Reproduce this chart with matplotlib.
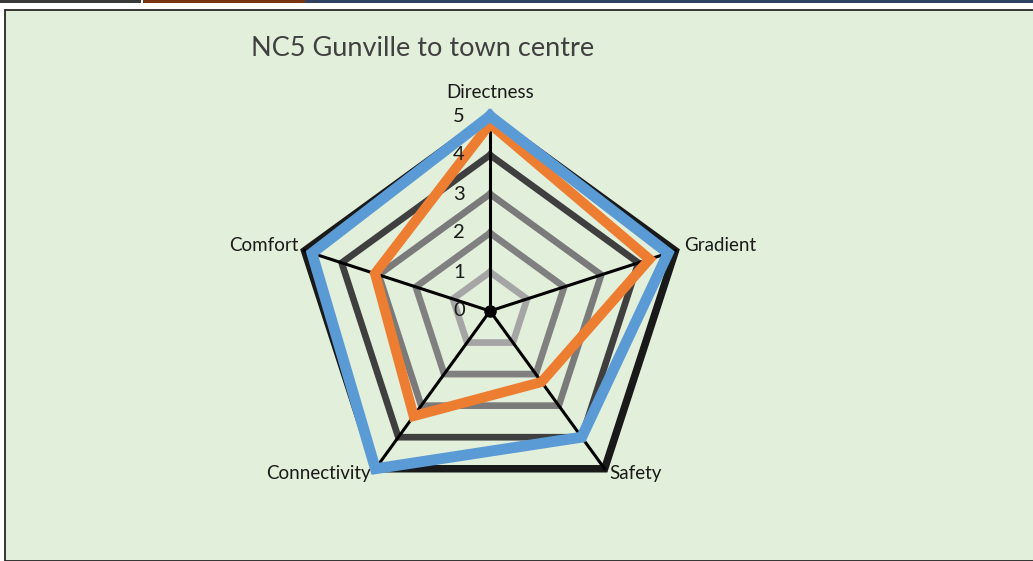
"""
雷达图：NC5 Gunville to town centre
"""
import numpy as np
import matplotlib.pyplot as plt
from matplotlib.patches import Rectangle

plt.rcParams['font.family'] = ['Lato', 'DejaVu Sans']

# 数据
categories = ['Directness', 'Gradient', 'Safety', 'Connectivity', 'Comfort']
existing = [4.8, 4.3, 2.25, 3.33, 3.1]      # 橙色
potential = [5, 4.8, 4, 5, 4.8]             # 蓝色
ring_levels = [1, 2, 3, 4, 5]
ring_colors = ['#a5a5a5', '#808080', '#7a7a7a', '#3f3f3f', '#191919']
ring_widths = [4.8, 4.8, 4.8, 4.8, 5.4]
tick_labels = ['0', '1', '2', '3', '4', '5']

W, H = 1033, 561
fig = plt.figure(figsize=(W / 100, H / 100), dpi=100)
fig.patch.set_facecolor('white')

# 背景框
fig.patches.append(Rectangle((5 / W, 0), 1, 1 - 10 / H, transform=fig.transFigure,
                             facecolor='#e2efda', edgecolor='#262626', linewidth=1.3,
                             zorder=-2))
# 顶部残留的色条
for x0, x1, c in [(0, 141, '#3a3a3a'), (143, 305, '#7a3410'), (305, W, '#2f4060')]:
    fig.patches.append(Rectangle((x0 / W, 1 - 3 / H), (x1 - x0) / W, 3 / H,
                                 transform=fig.transFigure, facecolor=c, edgecolor='none',
                                 zorder=-2))

cx, cy, R = 490, 311, 195
ax = fig.add_axes([(cx - R) / W, 1 - (cy + R) / H, 2 * R / W, 2 * R / H], projection='polar')
ax.set_theta_offset(np.pi / 2)
ax.set_theta_direction(-1)
ax.set_ylim(0, 5)
ax.set_axis_off()
ax.patch.set_alpha(0)

n = len(categories)
angles = np.linspace(0, 2 * np.pi, n, endpoint=False)
closed = np.append(angles, angles[0])

# 五边形网格
for lvl, c, lw in zip(ring_levels, ring_colors, ring_widths):
    ax.plot(closed, [lvl] * (n + 1), color=c, lw=lw, solid_joinstyle='miter',
            clip_on=False, zorder=2)

# 放射轴
for a in angles:
    ax.plot([a, a], [0, 5], color='black', lw=2.2, clip_on=False, zorder=3)
ax.plot([0], [0], 'o', color='black', ms=8, zorder=3)

ax.plot(closed, existing + existing[:1], color='#ed7d31', lw=7.2,
        solid_joinstyle='miter', clip_on=False, zorder=4)
ax.plot(closed, potential + potential[:1], color='#5b9bd5', lw=7.8,
        solid_joinstyle='miter', clip_on=False, zorder=5)

# 刻度标签
for i, t in enumerate(tick_labels):
    ax.annotate(t, (0, i), xytext=(-25, 0), textcoords='offset pixels',
                ha='right', va='center', fontsize=14.5, color='#1a1a1a',
                annotation_clip=False, zorder=6)

# 类别标签
offsets = [((0, 24), 'center'), ((9, 5), 'left'), ((5, -5), 'left'),
           ((-5, -5), 'right'), ((-6, 5), 'right')]
for a, name, (off, ha) in zip(angles, categories, offsets):
    ax.annotate(name, (a, 5), xytext=off, textcoords='offset pixels',
                ha=ha, va='center', fontsize=13.5, color='#1a1a1a',
                annotation_clip=False)

fig.text(423 / W, 1 - 48 / H, 'NC5 Gunville to town centre', ha='center', va='center',
         fontsize=19.5, color='#404040')

plt.savefig('out.png', dpi=100)
